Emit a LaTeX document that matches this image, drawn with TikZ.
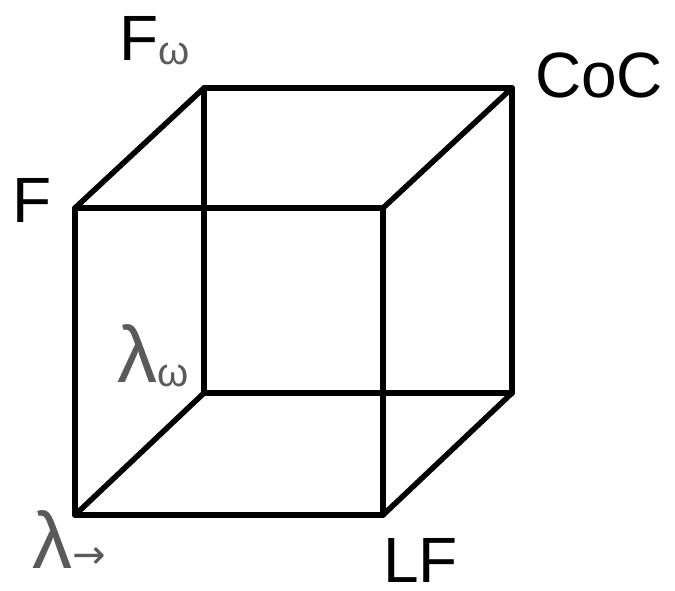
\documentclass[tikz,border=0pt]{standalone}
\usepackage{fontspec}
\setmainfont{Liberation Sans}
\newfontfamily\arrowfont{DejaVu Sans}
\usepackage{tikz}
\usetikzlibrary{positioning}
\usepackage{xcolor}
\definecolor{subgray}{HTML}{5A5A5A}

\begin{document}
\begin{tikzpicture}[
  x=1pt, y=-1pt,
  edge/.style={line width=5.5pt, line cap=round, line join=round},
  lab/.style={inner sep=0pt, anchor=base west, font=\fontsize{64}{64}\selectfont},
  greek/.style={lab, text=subgray, font=\fontsize{80}{80}\selectfont}
]
\useasboundingbox (0,0) rectangle (675,590);
% front face
\coordinate (lamarrow) at (75,515);
\coordinate (lf) at (383,515);
\coordinate (f) at (75,208);
\coordinate (fr) at (383,208);
% back face
\coordinate (lamomega) at (204,393);
\coordinate (br) at (512,393);
\coordinate (fomega) at (204,88);
\coordinate (coc) at (512,88);

\node[lab] (fl) at (12,222) {F};
\node[lab] (fomegal) at (119,60) {F\raisebox{-4pt}{\textcolor{subgray}{\fontsize{40}{40}\selectfont ω}}};
\node[lab] (cocl) at (535,97) {CoC};
\node[greek] (lamomegal) at (117,382) {λ\raisebox{-4pt}{\fontsize{40}{40}\selectfont ω}};
\node[greek] (lamarrowl) at (32,568) {λ{\arrowfont\fontsize{40}{40}\selectfont →}};
\node[lab] (lfl) at (383,582) {LF};

\draw[edge] (f) -- (fr) -- (lf) -- (lamarrow) -- cycle;
\draw[edge] (fomega) -- (coc) -- (br) -- (lamomega) -- cycle;
\draw[edge] (f) -- (fomega);
\draw[edge] (fr) -- (coc);
\draw[edge] (lf) -- (br);
\draw[edge] (lamarrow) -- (lamomega);
\end{tikzpicture}
\end{document}
